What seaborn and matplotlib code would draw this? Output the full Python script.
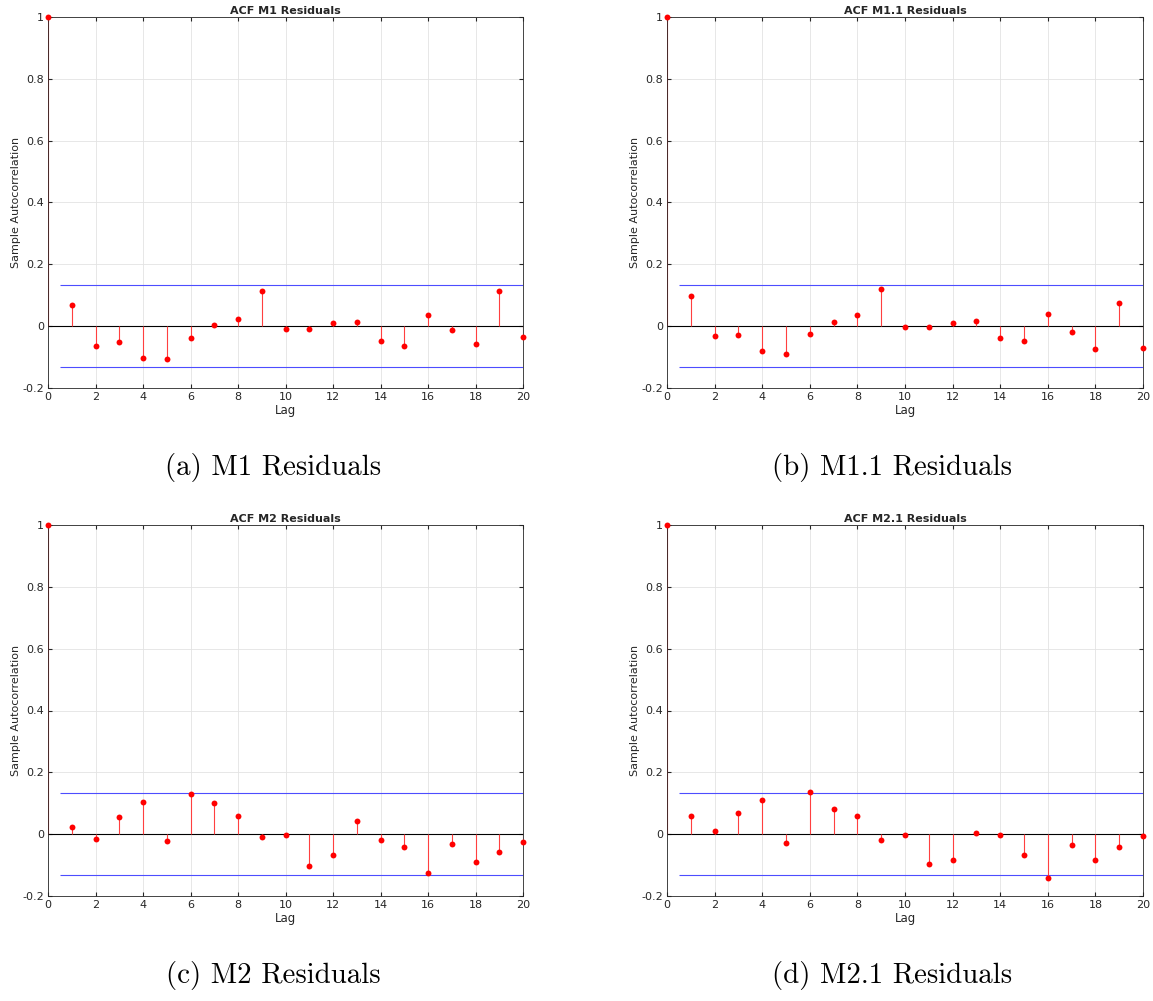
import matplotlib.pyplot as plt
import numpy as np
import pandas as pd
import seaborn as sns

lags = list(range(0, 21))

acf_m1 = [1.0, 0.070, -0.063, -0.052, -0.103, -0.106, -0.039, 0.005, 0.023, 0.115,
          -0.010, -0.008, 0.011, 0.014, -0.049, -0.063, 0.035, -0.014, -0.059, 0.114, -0.035]
acf_m11 = [1.0, 0.098, -0.032, -0.027, -0.081, -0.089, -0.025, 0.014, 0.035, 0.120,
           -0.004, -0.004, 0.011, 0.016, -0.038, -0.047, 0.039, -0.019, -0.074, 0.075, -0.072]
acf_m2 = [1.0, 0.023, -0.017, 0.055, 0.103, -0.022, 0.131, 0.100, 0.058, -0.010,
          -0.003, -0.104, -0.068, 0.044, -0.020, -0.042, -0.125, -0.031, -0.090, -0.057, -0.026]
acf_m21 = [1.0, 0.060, 0.011, 0.067, 0.110, -0.028, 0.135, 0.080, 0.060, -0.020,
           -0.003, -0.096, -0.085, 0.004, -0.003, -0.069, -0.141, -0.035, -0.083, -0.042, -0.005]

conf_bound = 0.133

titles = ["ACF M1 Residuals", "ACF M1.1 Residuals", "ACF M2 Residuals", "ACF M2.1 Residuals"]
captions = ["(a) M1 Residuals", "(b) M1.1 Residuals", "(c) M2 Residuals", "(d) M2.1 Residuals"]
series = [acf_m1, acf_m11, acf_m2, acf_m21]

sns.set_style("whitegrid")

W, H = 1153, 1001
fig = plt.figure(figsize=(W / 100, H / 100), dpi=100)

# axes boxes in pixels: (left, top, right, bottom)
boxes = [(48, 17, 523, 388), (667, 17, 1143, 388),
         (48, 525, 523, 896), (667, 525, 1143, 896)]
# caption centres in pixels
caption_xy = [(273, 468), (892, 468), (273, 976), (892, 976)]

for box, title, vals, cap, cxy in zip(boxes, titles, series, captions, caption_xy):
    l, t, r, b = box
    ax = fig.add_axes([l / W, 1 - b / H, (r - l) / W, (b - t) / H])
    df = pd.DataFrame({"lag": lags, "acf": vals})

    ax.vlines(df["lag"], 0, df["acf"], color="#ff4040", linewidth=0.8, zorder=2)
    sns.scatterplot(data=df, x="lag", y="acf", ax=ax, color="red", s=18,
                    edgecolor="red", linewidth=0, zorder=3, clip_on=False)
    ax.axhline(0, color="black", linewidth=0.8, zorder=1)
    ax.hlines([conf_bound, -conf_bound], 0.5, 20, color="#4d4dff", linewidth=0.8, zorder=1)

    ax.set_xlim(0, 20)
    ax.set_ylim(-0.2, 1.0)
    ax.set_xticks(range(0, 21, 2))
    ax.set_yticks([-0.2, 0, 0.2, 0.4, 0.6, 0.8, 1])
    ax.set_yticklabels(["-0.2", "0", "0.2", "0.4", "0.6", "0.8", "1"])
    ax.grid(color="#e3e3e3", linewidth=0.6)
    ax.tick_params(direction="in", length=3, labelsize=8, colors="#262626",
                   top=True, right=True, left=True, bottom=True, pad=3)
    for sp in ax.spines.values():
        sp.set_color("#262626")
        sp.set_linewidth(0.6)
    ax.set_title(title, fontsize=8, fontweight="bold", pad=2)
    ax.set_xlabel("Lag", fontsize=8.5, labelpad=1)
    ax.set_ylabel("Sample Autocorrelation", fontsize=8, labelpad=1)

    fig.text(cxy[0] / W, 1 - cxy[1] / H, cap, ha="center", va="center",
             fontsize=20.8, color="black", family=["cmr10", "DejaVu Serif"])

fig.savefig("out.png", dpi=100)
